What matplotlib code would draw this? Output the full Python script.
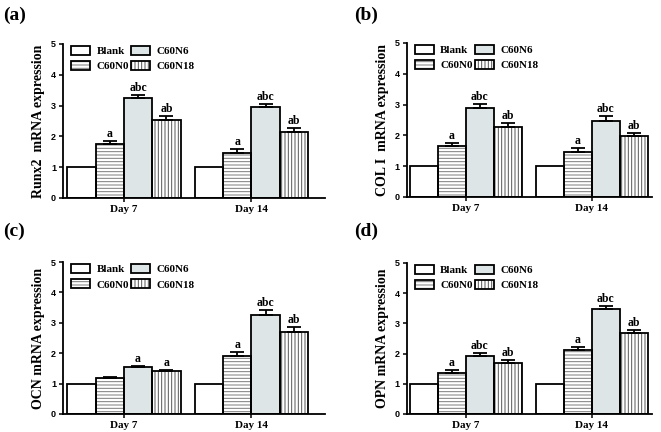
import numpy as np
import matplotlib.pyplot as plt
from matplotlib.patches import Patch

# groups and days
groups = ['Blank', 'C60N0', 'C60N6', 'C60N18']
days = ['Day 7', 'Day 14']

# values (Day 7, Day 14) for each group
runx2_mean = [[1.0, 1.76, 3.24, 2.54], [1.0, 1.47, 2.94, 2.15]]
runx2_err = [[0.0, 0.09, 0.09, 0.11], [0.0, 0.11, 0.12, 0.13]]
runx2_sig = [['', 'a', 'abc', 'ab'], ['', 'a', 'abc', 'ab']]

col1_mean = [[1.0, 1.67, 2.90, 2.27], [1.0, 1.45, 2.47, 1.98]]
col1_err = [[0.0, 0.08, 0.11, 0.14], [0.0, 0.13, 0.15, 0.11]]
col1_sig = [['', 'a', 'abc', 'ab'], ['', 'a', 'abc', 'ab']]

ocn_mean = [[1.0, 1.17, 1.54, 1.41], [1.0, 1.91, 3.26, 2.71]]
ocn_err = [[0.0, 0.04, 0.05, 0.05], [0.0, 0.14, 0.15, 0.15]]
ocn_sig = [['', '', 'a', 'a'], ['', 'a', 'abc', 'ab']]

opn_mean = [[1.0, 1.35, 1.91, 1.67], [1.0, 2.10, 3.48, 2.69]]
opn_err = [[0.0, 0.11, 0.12, 0.12], [0.0, 0.13, 0.09, 0.10]]
opn_sig = [['', 'a', 'abc', 'ab'], ['', 'a', 'abc', 'ab']]

ylabels = ['Runx2  mRNA expression', 'COL I  mRNA expression',
           'OCN mRNA expression', 'OPN mRNA expression']
panel_tags = ['(a)', '(b)', '(c)', '(d)']

plt.rcParams['hatch.linewidth'] = 0.7
SERIF = 'Liberation Serif'
SANS = 'Liberation Sans'

fills = ['white', 'white', '#dde5e6', 'white']
hatches = ['', '-----', '', '|||||']
hatch_cols = ['k', '#7a7a7a', 'k', '#555555']

fig = plt.figure(figsize=(6.61, 4.32), dpi=100)
positions = [
    [0.0953, 0.5417, 0.3964, 0.3565],
    [0.6157, 0.5440, 0.3707, 0.3565],
    [0.0953, 0.0417, 0.3964, 0.3518],
    [0.6157, 0.0417, 0.3707, 0.3500],
]
xlims = [(-2.15, 7.1), (-2.1, 6.65), (-2.15, 7.1), (-2.1, 6.65)]
tag_xy = [(0.005, 0.985), (0.535, 0.985), (0.005, 0.485), (0.535, 0.485)]

panels = [
    (runx2_mean, runx2_err, runx2_sig),
    (col1_mean, col1_err, col1_sig),
    (ocn_mean, ocn_err, ocn_sig),
    (opn_mean, opn_err, opn_sig),
]

centers = np.array([0.0, 4.5])
offsets = np.array([-1.5, -0.5, 0.5, 1.5])

for k, (mean, err, sig) in enumerate(panels):
    ax = fig.add_axes(positions[k])
    mean = np.array(mean)
    err = np.array(err)
    for g in range(4):
        x = centers + offsets[g]
        y = mean[:, g]
        # fill + hatch layer, then black outline on top
        ax.bar(x, y, width=1.0, color=fills[g], hatch=hatches[g],
               edgecolor=hatch_cols[g], linewidth=0, zorder=2)
        ax.bar(x, y, width=1.0, fill=False, edgecolor='k',
               linewidth=1.3, zorder=3)
        e = err[:, g]
        m = e > 0
        if m.any():
            ax.errorbar(x[m], y[m], yerr=[np.zeros(m.sum()), e[m]],
                        fmt='none', ecolor='k', elinewidth=1.3,
                        capsize=5, capthick=1.3, zorder=4)
        for d in range(2):
            if sig[d][g]:
                ax.text(x[d], y[d] + e[d] + 0.03, sig[d][g], ha='center',
                        va='bottom', fontsize=8.5, fontweight='bold',
                        family=SERIF)

    ax.set_xlim(*xlims[k])
    ax.set_ylim(0, 5)
    ax.set_yticks(range(6))
    ax.set_yticklabels([str(v) for v in range(6)], fontsize=6.5,
                       fontweight='bold', family=SANS)
    ax.set_xticks(centers)
    ax.set_xticklabels(days, fontsize=8, fontweight='bold', family=SERIF)
    ax.tick_params(axis='both', direction='out', length=3, width=1.1, pad=2)
    for s in ['top', 'right']:
        ax.spines[s].set_visible(False)
    for s in ['left', 'bottom']:
        ax.spines[s].set_linewidth(1.3)
    ax.set_ylabel(ylabels[k], fontsize=10, fontweight='bold', family=SERIF,
                  labelpad=4)

    handles = []
    for g in range(4):
        h1 = Patch(facecolor=fills[g], hatch=hatches[g],
                   edgecolor=hatch_cols[g], linewidth=0)
        h2 = Patch(fill=False, edgecolor='k', linewidth=1.3)
        handles.append((h1, h2))
    ax.legend(handles, groups, ncol=2, loc='upper left',
              bbox_to_anchor=(0.0, 1.04), frameon=False,
              prop={'family': SERIF, 'weight': 'bold', 'size': 8},
              handlelength=1.7, handleheight=0.9, handletextpad=0.6,
              columnspacing=0.2, labelspacing=0.45, borderaxespad=0.3)

    fig.text(tag_xy[k][0], tag_xy[k][1], panel_tags[k], ha='left', va='top',
             fontsize=14, fontweight='bold', family=SERIF)

fig.savefig('out.png', dpi=100)
